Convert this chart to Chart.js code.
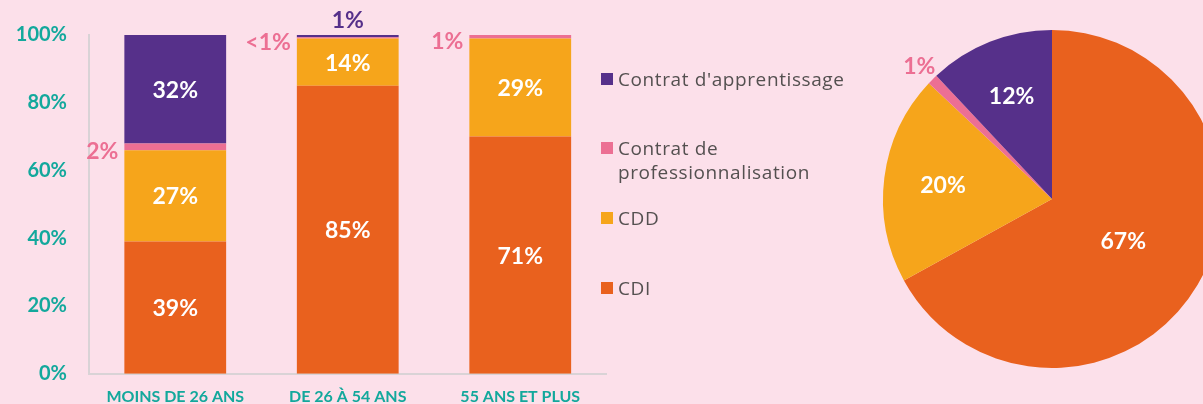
<!DOCTYPE html>
<html>
<head>
<meta charset="utf-8">
<script src="https://cdn.jsdelivr.net/npm/chart.js@4.4.0/dist/chart.umd.min.js"></script>
<style>
  html, body { margin: 0; padding: 0; background: #fce0ea; overflow: hidden; width: 1203px; height: 404px; }
  #bars { position: absolute; left: 0; top: 0; }
  #pie { position: absolute; left: 860px; top: 0; }
  #legend { position: absolute; left: 601px; top: 0; font-family: "Open Sans", sans-serif; font-size: 19px; letter-spacing: 0.6px; color: #545050; }
  .item { position: absolute; left: 0; white-space: nowrap; line-height: 24px; }
  .sw { position: absolute; left: 0; top: 6px; width: 12px; height: 12px; }
  .txt { position: absolute; left: 17px; top: 0; }
</style>
</head>
<body>
<canvas id="bars" width="620" height="404"></canvas>
<canvas id="pie" width="384" height="404"></canvas>
<div id="legend"></div>
<script>
// categories + tick labels
const categories = ['MOINS DE 26 ANS', 'DE 26 À 54 ANS', '55 ANS ET PLUS'];
const yTickLabels = ['0%', '20%', '40%', '60%', '80%', '100%'];

// series (bottom to top in the stack)
const seriesNames = ['CDI', 'CDD', 'Contrat de professionnalisation', "Contrat d'apprentissage"];
const seriesColors = ['#e9611e', '#f6a51b', '#ec6f93', '#56308a'];

const cdiValues = [39, 85, 70];
const cddValues = [27, 14, 29];
const proValues = [2, 0.3, 1];
const appValues = [32, 0.7, 0];

const cdiLabels = ['39%', '85%', '71%'];
const cddLabels = ['27%', '14%', '29%'];
const proLabels = ['2%', '<1%', '1%'];
const appLabels = ['32%', '1%', ''];

// pie (all ages)
const pieValues = [67, 20, 1, 12];
const pieLabels = ['67%', '20%', '1%', '12%'];

const teal = '#13a89c';
const numFont = 'bold 23px Lato';

// legend (top to bottom)
const legendLines = [["Contrat d'apprentissage"], ['Contrat de', 'professionnalisation'], ['CDD'], ['CDI']];
const legendColors = ['#56308a', '#ec6f93', '#f6a51b', '#e9611e'];
const legendTops = [67, 136, 206, 276];
const legendEl = document.getElementById('legend');
legendLines.forEach((lines, i) => {
  const d = document.createElement('div');
  d.className = 'item';
  d.style.top = legendTops[i] + 'px';
  d.innerHTML = '<div class="sw" style="background:' + legendColors[i] + '"></div><div class="txt">' + lines.join('<br>') + '</div>';
  legendEl.appendChild(d);
});

const barLabels = {
  id: 'barLabels',
  afterDatasetsDraw(chart) {
    const ctx = chart.ctx;
    ctx.save();
    ctx.font = numFont;
    ctx.textBaseline = 'middle';
    chart.data.datasets.forEach((ds, di) => {
      const meta = chart.getDatasetMeta(di);
      meta.data.forEach((bar, i) => {
        const txt = ds.valueLabels[i];
        if (!txt) return;
        const p = bar.getProps(['x', 'y', 'base', 'width'], true);
        const h = p.base - p.y;
        if (h > 20) {
          ctx.fillStyle = '#fff';
          ctx.textAlign = 'center';
          ctx.fillText(txt, p.x, (p.y + p.base) / 2 + 1);
        } else if (ds.smallPos === 'top') {
          ctx.fillStyle = ds.backgroundColor;
          ctx.textAlign = 'center';
          ctx.fillText(txt, p.x, p.y - 14);
        } else {
          ctx.fillStyle = ds.backgroundColor;
          ctx.textAlign = 'right';
          ctx.fillText(txt, p.x - p.width / 2 - 6, (p.y + p.base) / 2 + 5);
        }
      });
    });
    ctx.restore();
  }
};

new Chart(document.getElementById('bars'), {
  type: 'bar',
  data: {
    labels: categories,
    datasets: [
      { label: seriesNames[0], data: cdiValues, valueLabels: cdiLabels, backgroundColor: seriesColors[0] },
      { label: seriesNames[1], data: cddValues, valueLabels: cddLabels, backgroundColor: seriesColors[1] },
      { label: seriesNames[2], data: proValues, valueLabels: proLabels, backgroundColor: seriesColors[2], smallPos: 'left' },
      { label: seriesNames[3], data: appValues, valueLabels: appLabels, backgroundColor: seriesColors[3], smallPos: 'top' }
    ].map(d => Object.assign(d, { barPercentage: 0.59, categoryPercentage: 1, borderWidth: 0 }))
  },
  options: {
    responsive: false,
    animation: false,
    layout: { padding: { top: 35, right: 13.5, left: 0, bottom: 0 } },
    plugins: { legend: { display: false }, tooltip: { enabled: false } },
    scales: {
      x: {
        stacked: true,
        grid: { display: false, drawTicks: false },
        border: { color: '#d9d3d6', width: 2 },
        ticks: { color: teal, font: { family: 'Lato', weight: 'bold', size: 16 }, padding: 14, maxRotation: 0, autoSkip: false },
        afterFit(s) { s.height = 30.3; }
      },
      y: {
        stacked: true,
        min: 0,
        max: 100,
        grid: { display: false, drawTicks: false },
        border: { color: '#d9d3d6', width: 2 },
        // small lineHeight keeps the label half-height padding from pushing the plot bottom up
        ticks: { stepSize: 20, color: teal, font: { family: 'Lato', weight: 'bold', size: 20, lineHeight: 0.5 }, padding: 22,
                 callback: (v, i) => yTickLabels[i] },
        afterFit(s) { s.width = 89; }
      }
    }
  },
  plugins: [barLabels]
});

const pieText = {
  id: 'pieText',
  afterDatasetsDraw(chart) {
    const ctx = chart.ctx;
    const ds = chart.data.datasets[0];
    ctx.save();
    ctx.font = numFont;
    ctx.textAlign = 'center';
    ctx.textBaseline = 'middle';
    chart.getDatasetMeta(0).data.forEach((arc, i) => {
      const p = arc.getProps(['x', 'y', 'startAngle', 'endAngle', 'outerRadius'], true);
      const mid = (p.startAngle + p.endAngle) / 2;
      const v = ds.data[i];
      let f = 0.65, color = '#fff';
      if (v > 50) f = 0.49;
      if (v < 3) { f = 1.11; color = ds.backgroundColor[i]; }
      ctx.fillStyle = color;
      ctx.fillText(ds.textLabels[i], p.x + Math.cos(mid) * p.outerRadius * f, p.y + Math.sin(mid) * p.outerRadius * f);
    });
    ctx.restore();
  }
};

new Chart(document.getElementById('pie'), {
  type: 'pie',
  data: {
    labels: seriesNames,
    datasets: [{ data: pieValues, textLabels: pieLabels, backgroundColor: seriesColors, borderWidth: 0 }]
  },
  options: {
    responsive: false,
    animation: false,
    layout: { padding: { top: 30, bottom: 36, left: 23, right: 23 } },
    plugins: { legend: { display: false }, tooltip: { enabled: false } }
  },
  plugins: [pieText]
});
</script>
</body>
</html>
